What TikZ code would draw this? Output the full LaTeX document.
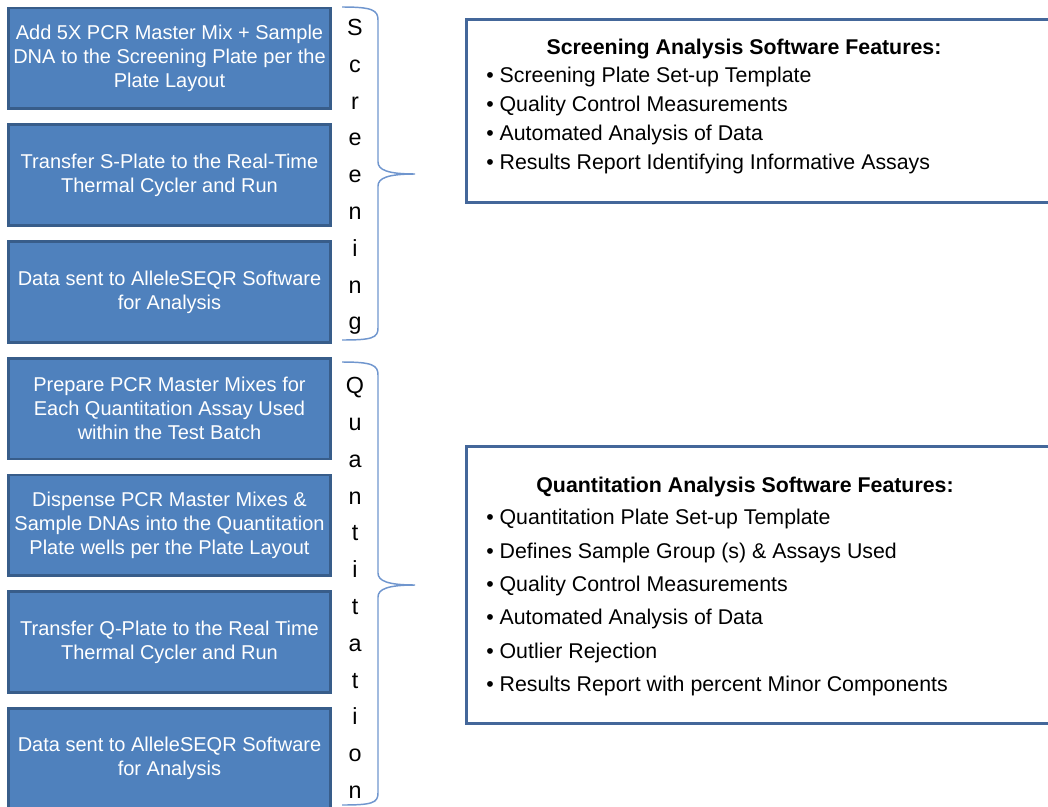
\documentclass[tikz,border=0pt]{standalone}
\usepackage{fontspec}
\setmainfont{Liberation Sans}
\usetikzlibrary{positioning}
\definecolor{stepblue}{RGB}{79,129,189}
\definecolor{stepedge}{RGB}{56,93,138}
\definecolor{featedge}{RGB}{68,103,154}
\definecolor{bracecolor}{RGB}{112,150,206}

\begin{document}
\begin{tikzpicture}[
    x=0.75pt, y=-0.75pt,
    node distance=10pt,
    stepbox/.style={rectangle, draw=stepedge, line width=2pt, fill=stepblue,
                    text=white, align=center, minimum width=241.75pt, minimum height=75.5pt,
                    font=\fontsize{15}{18}\selectfont},
    vword/.style={align=center, inner sep=0pt, font=\fontsize{17.5}{27.6}\selectfont},
    featbox/.style={rectangle, draw=featedge, line width=2.2pt, fill=white, anchor=north west,
                    minimum width=480pt},
    feattitle/.style={anchor=base, font=\fontsize{16}{19}\selectfont\bfseries},
    featlist/.style={anchor=north west, align=left, inner sep=0pt},
    bracket/.style={draw=bracecolor, line width=1.1pt}
]
\useasboundingbox (0,0) rectangle (1048,806);

% screening steps
\node[stepbox] (scr1) at (169.5,58.5) {Add 5X PCR Master Mix + Sample\\DNA to the Screening Plate per the\\Plate Layout};
\node[stepbox, below=of scr1] (scr2) {Transfer S-Plate to the Real-Time\\Thermal Cycler and Run};
\node[stepbox, below=of scr2] (scr3) {Data sent to AlleleSEQR Software\\for Analysis};

% quantitation steps
\node[stepbox, below=of scr3] (qnt1) {Prepare PCR Master Mixes for\\Each Quantitation Assay Used\\within the Test Batch};
\node[stepbox, below=of qnt1] (qnt2) {Dispense PCR Master Mixes \&\\Sample DNAs into the Quantitation\\Plate wells per the Plate Layout};
\node[stepbox, below=of qnt2] (qnt3) {Transfer Q-Plate to the Real Time\\Thermal Cycler and Run};
\node[stepbox, below=of qnt3] (qnt4) {Data sent to AlleleSEQR Software\\for Analysis};

% vertical labels
\node[vword] (scrword) at (355,177) {S\\c\\r\\e\\e\\n\\i\\n\\g};
\node[vword] (qntword) at (355,588) {Q\\u\\a\\n\\t\\i\\t\\a\\t\\i\\o\\n};

% braces
\draw[bracket] (342,7) .. controls (372,7) and (378,10) .. (378,20) -- (378,162)
    .. controls (378,170) and (388,174) .. (415,174)
    .. controls (388,174) and (378,178) .. (378,186) -- (378,328)
    .. controls (378,338) and (372,340) .. (342,340);
\draw[bracket] (342,362) .. controls (372,362) and (378,365) .. (378,375) -- (378,573)
    .. controls (378,581) and (388,585) .. (415,585)
    .. controls (388,585) and (378,589) .. (378,597) -- (378,793)
    .. controls (378,803) and (372,805) .. (342,805);

% software feature boxes
\node[featbox, minimum height=137pt] (scrfeat) at (465,18) {};
\node[feattitle] (scrtitle) at (744,55) {Screening Analysis Software Features:};
\node[featlist, font=\fontsize{16}{21.6}\selectfont] (scrlist) at (486,67)
    {\textbullet\ Screening Plate Set-up Template\\
     \textbullet\ Quality Control Measurements\\
     \textbullet\ Automated Analysis of Data\\
     \textbullet\ Results Report Identifying Informative Assays};

\node[featbox, minimum height=208pt] (qntfeat) at (465,445) {};
\node[feattitle] (qnttitle) at (745,492) {Quantitation Analysis Software Features:};
\node[featlist, font=\fontsize{16}{25}\selectfont] (qntlist) at (486,509)
    {\textbullet\ Quantitation Plate Set-up Template\\
     \textbullet\ Defines Sample Group (s) \& Assays Used\\
     \textbullet\ Quality Control Measurements\\
     \textbullet\ Automated Analysis of Data\\
     \textbullet\ Outlier Rejection\\
     \textbullet\ Results Report with percent Minor Components};
\end{tikzpicture}
\end{document}
